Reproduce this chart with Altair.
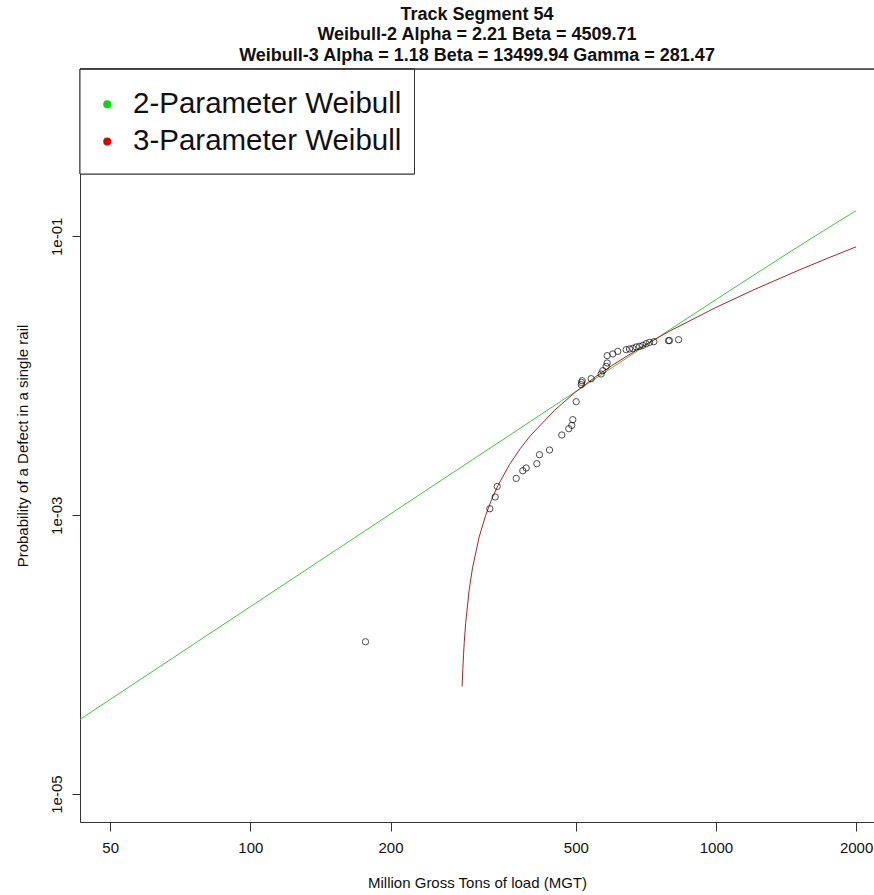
import math
import altair as alt
import pandas as pd

# ---------------- text ----------------
TITLE_LINES = [
    "Track Segment 54",
    "Weibull-2 Alpha = 2.21 Beta = 4509.71",
    "Weibull-3 Alpha = 1.18 Beta = 13499.94 Gamma = 281.47",
]
X_TITLE = "Million Gross Tons of load (MGT)"
Y_TITLE = "Probability of a Defect in a single rail"
SERIES = ["2-Parameter Weibull", "3-Parameter Weibull"]

# ---------------- axes ----------------
X_TICKS = [50, 100, 200, 500, 1000, 2000]
Y_TICKS = [1e-5, 1e-3, 1e-1]
Y_TICK_LABELS = ["1e-05", "1e-03", "1e-01"]
X_DOMAIN = [43.06, 2185]
Y_DOMAIN = [6.31e-6, 1.585]

OBS_MGT = [176.7, 326.8, 335.6, 339.0, 372.4, 384.7, 391.2, 412.4, 417.8, 439.0,
           466.5, 483.0, 490.2, 492.6, 501.0, 513.6, 514.5, 516.0, 539.5, 566.8,
           571.4, 581.1, 583.9, 583.9, 600.4, 615.4, 641.4, 652.0, 662.8, 674.0,
           685.1, 696.4, 708.3, 720.0, 735.5, 790.9, 794.5, 831.2]
OBS_PROB = [1.238e-4, 1.113e-3, 1.351e-3, 1.609e-3, 1.837e-3, 2.085e-3, 2.181e-3, 2.341e-3, 2.716e-3, 2.935e-3,
            3.761e-3, 4.174e-3, 4.408e-3, 4.843e-3, 6.520e-3, 8.633e-3, 8.95e-3, 9.222e-3, 9.533e-3, 1.030e-2,
            1.088e-2, 1.168e-2, 1.235e-2, 1.394e-2, 1.434e-2, 1.496e-2, 1.539e-2, 1.557e-2, 1.573e-2, 1.609e-2,
            1.625e-2, 1.652e-2, 1.699e-2, 1.736e-2, 1.756e-2, 1.786e-2, 1.79e-2, 1.816e-2]

# ---------------- fitted curves ----------------
W2_MGT = [40, 50, 100, 200, 300, 400, 500, 600, 700, 800, 1000, 1200, 1400, 1600, 1800, 2000]
W2_PROB = [2.917e-5, 4.776e-5, 2.210e-4, 1.022e-3, 2.502e-3, 4.719e-3, 7.716e-3, 1.152e-2, 1.616e-2,
           2.165e-2, 3.520e-2, 5.221e-2, 7.261e-2, 9.629e-2, 0.1231, 0.1528]

W3_MGT = [285, 286, 287, 288, 290, 295, 300, 310, 320, 330, 340, 360, 380, 400, 450, 500, 550,
          600, 700, 800, 1000, 1200, 1500, 1750, 2000]
W3_PROB = [5.92e-5, 7.95e-5, 1.006e-4, 1.224e-4, 1.678e-4, 2.892e-4, 4.190e-4, 6.972e-4, 9.937e-4,
           1.3045e-3, 1.6269e-3, 2.3007e-3, 3.0058e-3, 3.7368e-3, 5.6554e-3, 7.6764e-3, 9.779e-3,
           1.1949e-2, 1.6453e-2, 2.1136e-2, 3.0905e-2, 4.1075e-2, 5.6865e-2, 7.037e-2, 8.4096e-2]

W, H = 794, 753
FONT = "Liberation Sans"
AX = "#333333"

obs = pd.DataFrame({"mgt": OBS_MGT, "prob": OBS_PROB})
w2 = pd.DataFrame({"mgt": W2_MGT, "prob": W2_PROB})
w3 = pd.DataFrame({"mgt": W3_MGT, "prob": W3_PROB})
leg = pd.DataFrame({"series": SERIES})

label_expr = " : ".join(
    f"abs(log(datum.value)/LN10 - ({math.log10(v):.0f})) < 0.01 ? '{lab}'"
    for v, lab in zip(Y_TICKS, Y_TICK_LABELS)
) + " : ''"

xs = alt.Scale(type="log", domain=X_DOMAIN, nice=False)
ys = alt.Scale(type="log", domain=Y_DOMAIN, nice=False)

x_axis = alt.Axis(values=X_TICKS, format="d", title=X_TITLE, grid=False,
                  tickSize=9, tickColor=AX, domainColor=AX, labelPadding=9,
                  labelFontSize=15, labelColor="#111111", labelFont=FONT,
                  titleFontSize=15, titleFontWeight="normal", titleColor="#111111",
                  titleFont=FONT, titlePadding=20, labelFlush=False, labelOverlap=False)
y_axis = alt.Axis(values=Y_TICKS, labelExpr=label_expr, title=Y_TITLE, grid=False,
                  tickSize=8, tickColor=AX, domainColor=AX, labelAngle=270,
                  labelAlign="center", labelBaseline="alphabetic", labelPadding=11,
                  labelFontSize=15, labelColor="#111111", labelFont=FONT,
                  titleFontSize=15, titleFontWeight="normal", titleColor="#111111",
                  titleFont=FONT, titlePadding=19, labelFlush=False, labelOverlap=False)

X = alt.X("mgt:Q", scale=xs, axis=x_axis)
Y = alt.Y("prob:Q", scale=ys, axis=y_axis)

line2 = alt.Chart(w2).mark_line(color="#3CC83C", strokeWidth=1, clip=True).encode(x=X, y=Y)
line3 = alt.Chart(w3).mark_line(color="#AA2228", strokeWidth=1, clip=True).encode(x=X, y=Y)
pts = alt.Chart(obs).mark_point(shape="circle", filled=False, color="black",
                                size=40, strokeWidth=1, clip=True).encode(x=X, y=Y)

box = alt.Chart(leg).mark_rect(fill="white", stroke=AX, strokeWidth=1).encode(
    x=alt.value(0), x2=alt.value(334.5), y=alt.value(0), y2=alt.value(105))
top = alt.Chart(leg).mark_rule(color=AX, strokeWidth=1).encode(
    x=alt.value(0), x2=alt.value(W), y=alt.value(0))

legend_layer = alt.Chart(leg).mark_point(filled=True, opacity=0, size=64).encode(
    fill=alt.Fill("series:N",
                  scale=alt.Scale(domain=SERIES, range=["#00E000", "#E00000"]),
                  legend=alt.Legend(title=None, orient="none", legendX=12.5, legendY=20.5,
                                    symbolType="circle", symbolSize=64, symbolOpacity=1,
                                    symbolStrokeWidth=0, labelFontSize=29.5, labelFont=FONT,
                                    labelColor="#111111", labelOffset=11, rowPadding=6.2,
                                    padding=0, labelLimit=400))
)

chart = alt.layer(line2, line3, pts, box, top, legend_layer).properties(
    width=W, height=H,
    title=alt.TitleParams(text=TITLE_LINES, fontSize=18, fontWeight="bold", font=FONT,
                          anchor="middle", offset=4, lineHeight=20.5, color="#111111"),
    autosize=alt.AutoSizeParams(type="none"),
    padding={"left": 80, "top": 69, "right": 0, "bottom": 73},
).configure_view(stroke=None).configure(font=FONT, background="white")

chart.save("out.html", embed_options={"renderer": "svg", "actions": False})
